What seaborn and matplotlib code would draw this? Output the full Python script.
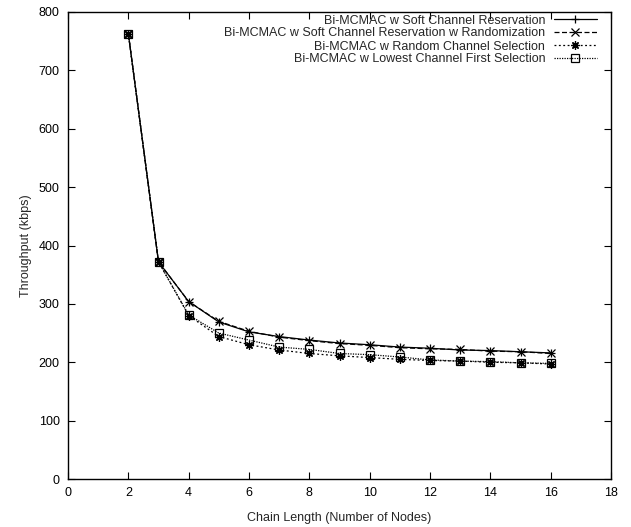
import matplotlib
matplotlib.use("Agg")
import matplotlib.pyplot as plt
import seaborn as sns

# chain length (number of nodes)
nodes = list(range(2, 17))

soft_res = [763, 372, 304, 269, 252, 244, 238, 233, 230, 226, 224, 221, 220, 218, 216]
soft_res_rand = [763, 372, 304, 270, 253, 243, 237, 232, 229, 225, 223, 222, 219, 218, 215]
random_sel = [763, 372, 280, 244, 230, 221, 215, 211, 208, 205, 203, 202, 200, 199, 197]
lowest_first = [763, 372, 281, 250, 238, 226, 222, 215, 213, 209, 204, 202, 201, 199, 198]

labels = ["Bi-MCMAC w Soft Channel Reservation",
          "Bi-MCMAC w Soft Channel Reservation w Randomization",
          "Bi-MCMAC w Random Channel Selection",
          "Bi-MCMAC w Lowest Channel First Selection"]

x_ticks = list(range(0, 19, 2))
y_ticks = list(range(0, 801, 100))

sns.set_theme(style="ticks")
plt.rcParams['font.family'] = ['Liberation Sans', 'DejaVu Sans']

fs = 9

fig = plt.figure(figsize=(6.31, 5.27), dpi=100)
ax = fig.add_axes([68/631, 48/527, 543/631, 467/527])

series = [soft_res, soft_res_rand, random_sel, lowest_first]
styles = [("-", "+"), ((0, (4, 2)), "x"), ((0, (1.5, 2)), (8, 2, 0)), ((0, (1, 1)), "s")]

for vals, lbl, (ls, mk) in zip(series, labels, styles):
    sns.lineplot(x=nodes, y=vals, label=lbl, color="black", linestyle=ls,
                 marker=mk, markersize=6, linewidth=0.9,
                 markerfacecolor="none", markeredgecolor="black",
                 markeredgewidth=0.9, ax=ax)

ax.set_xlim(0, 18)
ax.set_ylim(0, 800)
ax.set_xticks(x_ticks)
ax.set_yticks(y_ticks)
ax.tick_params(direction="in", length=5, width=0.8, labelsize=fs,
               top=True, right=True, colors="black")
ax.tick_params(axis="x", pad=6)
ax.tick_params(axis="y", pad=6)
for s in ax.spines.values():
    s.set_visible(True)
    s.set_linewidth(1.0)
    s.set_color("black")

ax.set_xlabel("Chain Length (Number of Nodes)", fontsize=fs, labelpad=9)
ax.set_ylabel("Throughput (kbps)", fontsize=fs, labelpad=5)

handles, lbls = ax.get_legend_handles_labels()
ax.legend(handles, lbls, loc="upper right", bbox_to_anchor=(1 - 12/543, 1),
          frameon=False, markerfirst=False,
          fontsize=fs, handlelength=3.4, handletextpad=0.7,
          labelspacing=0.08, borderaxespad=0.1, borderpad=0.1)

fig.savefig("out.png", dpi=100)
